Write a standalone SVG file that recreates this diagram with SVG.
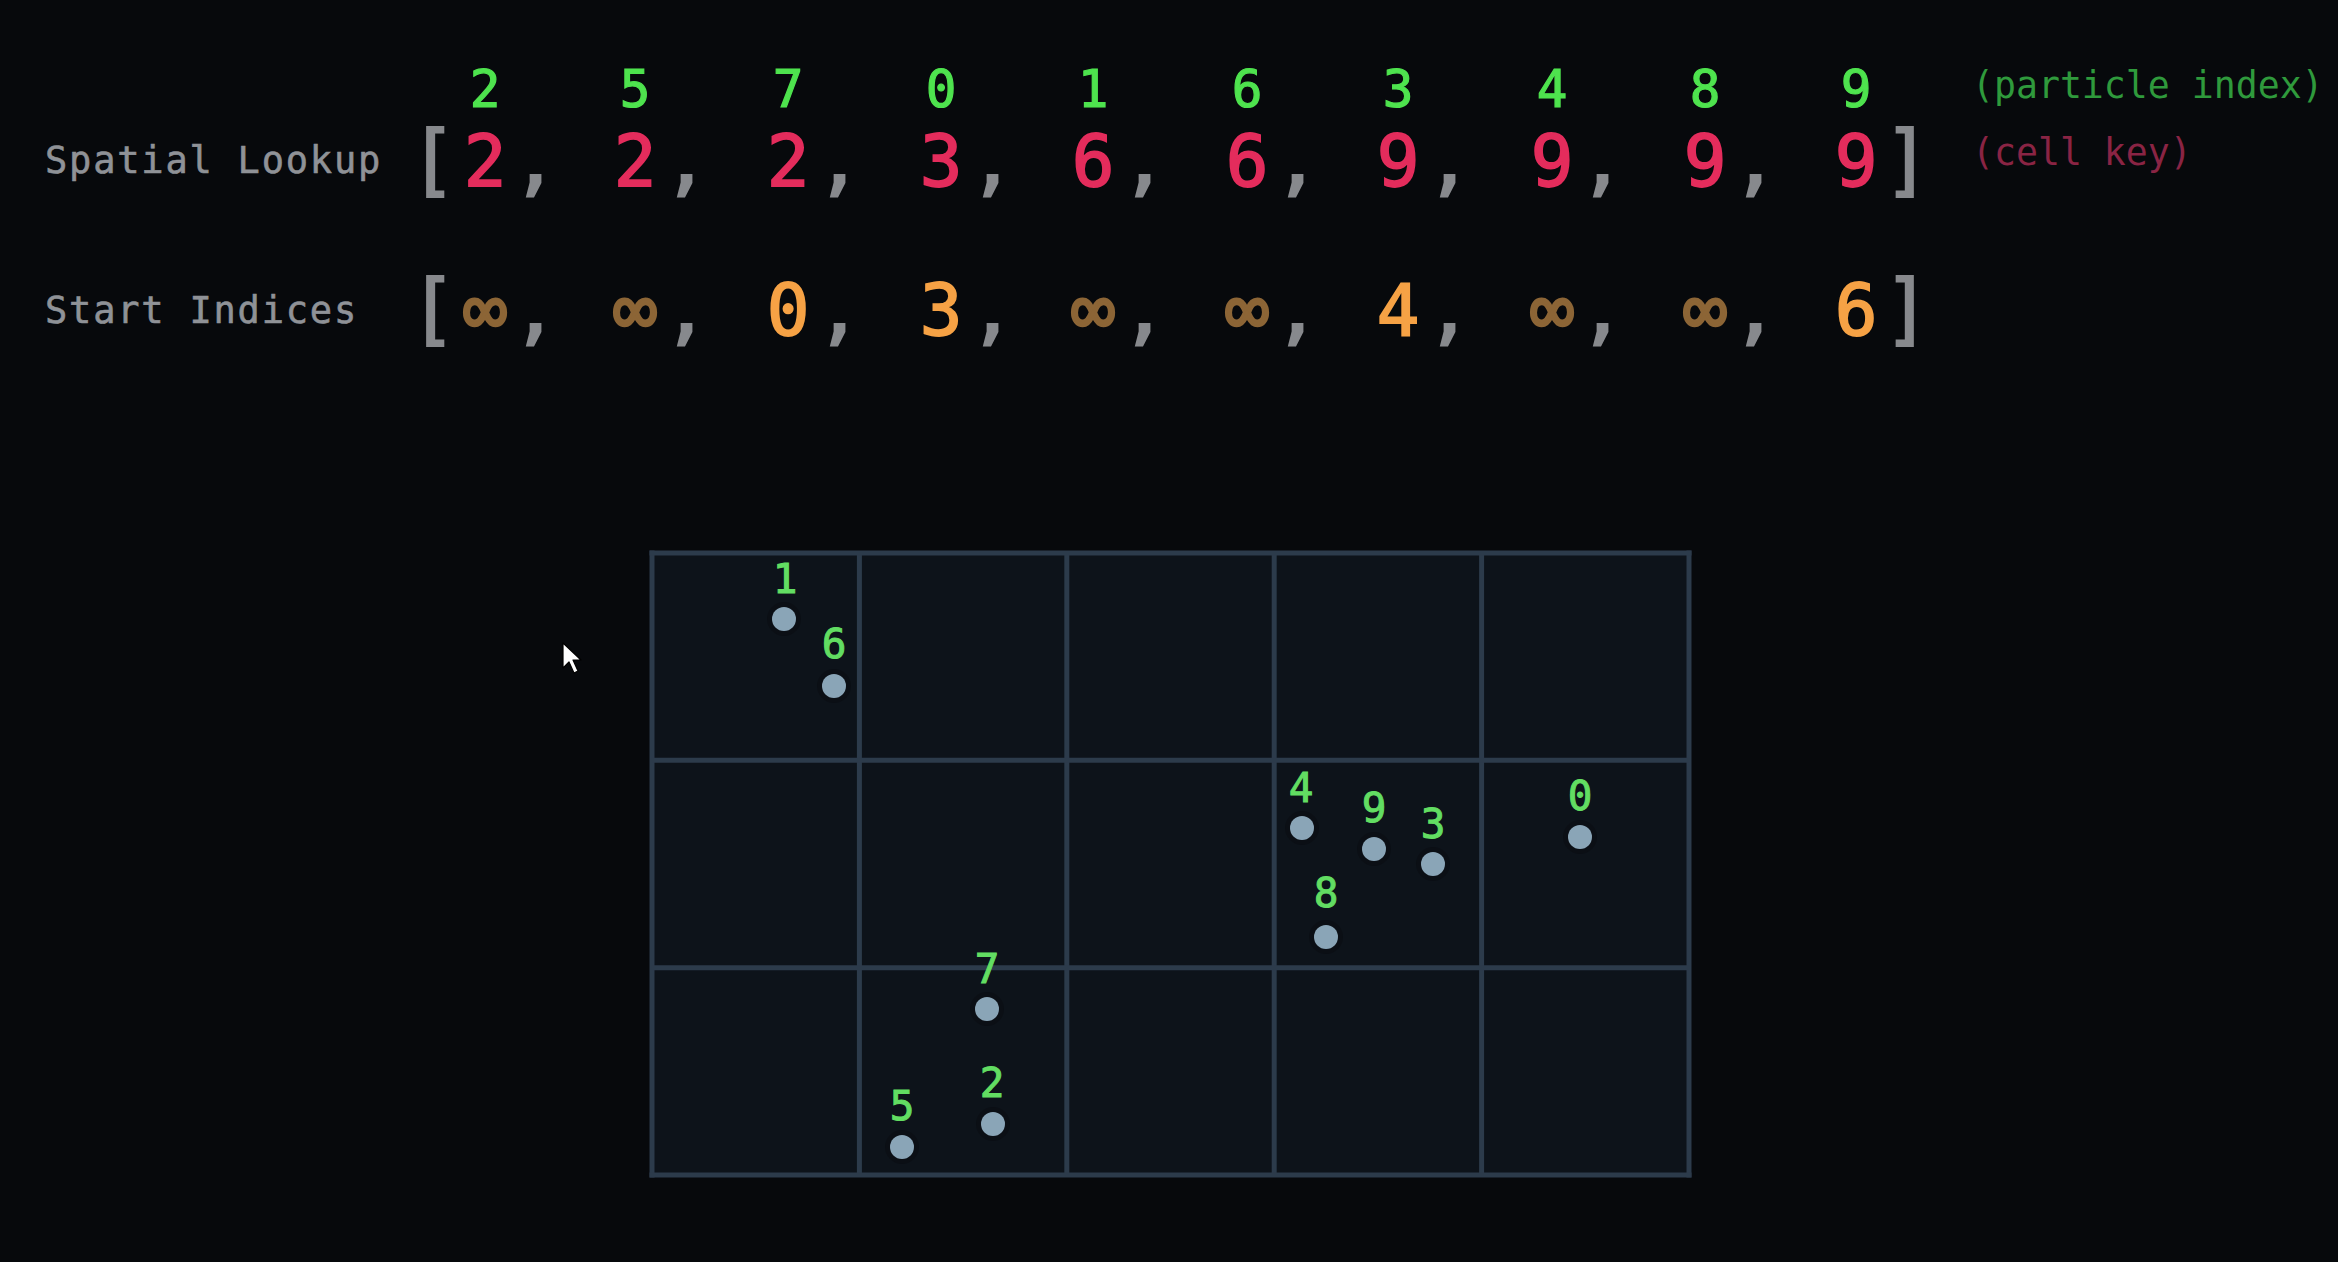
<svg xmlns="http://www.w3.org/2000/svg" width="2338" height="1262" viewBox="0 0 2338 1262">
<style>
  .mono { font-family: "DejaVu Sans Mono", "Liberation Mono", monospace; }
  .lbl { font-size: 37px; fill: #8f9297; letter-spacing: 1.8px; stroke: #8f9297; stroke-width: 0.6; }
  .pi { font-size: 51px; fill: #4ee34e; stroke: #4ee34e; stroke-width: 1.2; text-anchor: middle; }
  .key { font-size: 71px; fill: #e42c5c; stroke: #e42c5c; stroke-width: 1.8; text-anchor: middle; }
  .st { font-size: 71px; fill: #f6a245; stroke: #f6a245; stroke-width: 1.8; text-anchor: middle; }
  .inf { font-size: 74px; fill: #8c6536; stroke: #8c6536; stroke-width: 2.6; text-anchor: middle; }
  .punct { font-size: 71px; fill: #87898d; stroke: #87898d; stroke-width: 3; text-anchor: middle; }
  .brk { font-size: 78px; fill: #87898d; stroke: #87898d; stroke-width: 2; text-anchor: middle; }
  .note { font-size: 36.5px; }
  .gl { font-size: 41px; fill: #62dd62; stroke: #62dd62; stroke-width: 1; text-anchor: middle; }
  .dot { fill: #8aa5b7; }
  .halo { fill: #05080b; opacity: 0.3; }
  .grid line { stroke: #2c3b4b; stroke-width: 5; }
</style>
<rect x="0" y="0" width="2338" height="1262" fill="#07090c"/>

<g id="labels" class="mono">
  <text class="lbl" x="45" y="173">Spatial Lookup</text>
  <text class="lbl" x="45" y="323">Start Indices</text>
  <text class="note" x="1972" y="98" fill="#2f9a3c">(particle index)</text>
  <text class="note" x="1972" y="165" fill="#8a2444">(cell key)</text>
</g>

<g id="particle-index-row" class="mono">
  <text class="pi" x="485" y="107">2</text>
  <text class="pi" x="635" y="107">5</text>
  <text class="pi" x="788" y="107">7</text>
  <text class="pi" x="941" y="107">0</text>
  <text class="pi" x="1093" y="107">1</text>
  <text class="pi" x="1247" y="107">6</text>
  <text class="pi" x="1398" y="107">3</text>
  <text class="pi" x="1552" y="107">4</text>
  <text class="pi" x="1705" y="107">8</text>
  <text class="pi" x="1856" y="107">9</text>
</g>

<g id="spatial-lookup-array" class="mono">
  <text class="brk" x="433" y="187">[</text>
  <text class="key" x="485" y="186">2</text><text class="punct" x="535" y="186">,</text>
  <text class="key" x="635" y="186">2</text><text class="punct" x="686" y="186">,</text>
  <text class="key" x="788" y="186">2</text><text class="punct" x="839" y="186">,</text>
  <text class="key" x="941" y="186">3</text><text class="punct" x="992" y="186">,</text>
  <text class="key" x="1093" y="186">6</text><text class="punct" x="1144" y="186">,</text>
  <text class="key" x="1247" y="186">6</text><text class="punct" x="1297" y="186">,</text>
  <text class="key" x="1398" y="186">9</text><text class="punct" x="1449" y="186">,</text>
  <text class="key" x="1552" y="186">9</text><text class="punct" x="1602" y="186">,</text>
  <text class="key" x="1705" y="186">9</text><text class="punct" x="1755" y="186">,</text>
  <text class="key" x="1856" y="186">9</text>
  <text class="brk" x="1907" y="187">]</text>
</g>

<g id="start-indices-array" class="mono">
  <text class="brk" x="433" y="336">[</text>
  <text class="inf" x="485" y="335">∞</text><text class="punct" x="535" y="335">,</text>
  <text class="inf" x="635" y="335">∞</text><text class="punct" x="686" y="335">,</text>
  <text class="st" x="788" y="335">0</text><text class="punct" x="839" y="335">,</text>
  <text class="st" x="941" y="335">3</text><text class="punct" x="992" y="335">,</text>
  <text class="inf" x="1093" y="335">∞</text><text class="punct" x="1144" y="335">,</text>
  <text class="inf" x="1247" y="335">∞</text><text class="punct" x="1297" y="335">,</text>
  <text class="st" x="1398" y="335">4</text><text class="punct" x="1449" y="335">,</text>
  <text class="inf" x="1552" y="335">∞</text><text class="punct" x="1602" y="335">,</text>
  <text class="inf" x="1705" y="335">∞</text><text class="punct" x="1755" y="335">,</text>
  <text class="st" x="1856" y="335">6</text>
  <text class="brk" x="1907" y="336">]</text>
</g>

<g id="grid" class="grid">
  <rect x="652" y="553" width="1037" height="622" fill="#0d131a"/>
  <line x1="652" y1="550.5" x2="652" y2="1177.5"/>
  <line x1="859.4" y1="553" x2="859.4" y2="1175"/>
  <line x1="1066.8" y1="553" x2="1066.8" y2="1175"/>
  <line x1="1274.2" y1="553" x2="1274.2" y2="1175"/>
  <line x1="1481.6" y1="553" x2="1481.6" y2="1175"/>
  <line x1="1689" y1="550.5" x2="1689" y2="1177.5"/>
  <line x1="649.5" y1="553" x2="1691.5" y2="553"/>
  <line x1="652" y1="760.3" x2="1689" y2="760.3"/>
  <line x1="652" y1="967.7" x2="1689" y2="967.7"/>
  <line x1="649.5" y1="1175" x2="1691.5" y2="1175"/>
</g>

<g id="particles" class="mono">
  <g id="p1"><circle class="halo" cx="784" cy="619" r="17"/><circle class="dot" cx="784" cy="619" r="12"/><text class="gl" x="785" y="593">1</text></g>
  <g id="p6"><circle class="halo" cx="834" cy="686" r="17"/><circle class="dot" cx="834" cy="686" r="12"/><text class="gl" x="834" y="658">6</text></g>
  <g id="p4"><circle class="halo" cx="1302" cy="828" r="17"/><circle class="dot" cx="1302" cy="828" r="12"/><text class="gl" x="1301" y="802">4</text></g>
  <g id="p9"><circle class="halo" cx="1374" cy="849" r="17"/><circle class="dot" cx="1374" cy="849" r="12"/><text class="gl" x="1374" y="822">9</text></g>
  <g id="p3"><circle class="halo" cx="1433" cy="864" r="17"/><circle class="dot" cx="1433" cy="864" r="12"/><text class="gl" x="1433" y="838">3</text></g>
  <g id="p8"><circle class="halo" cx="1326" cy="937" r="17"/><circle class="dot" cx="1326" cy="937" r="12"/><text class="gl" x="1326" y="907">8</text></g>
  <g id="p0"><circle class="halo" cx="1580" cy="837" r="17"/><circle class="dot" cx="1580" cy="837" r="12"/><text class="gl" x="1580" y="810">0</text></g>
  <g id="p7"><circle class="halo" cx="987" cy="1009" r="17"/><circle class="dot" cx="987" cy="1009" r="12"/><text class="gl" x="987" y="983">7</text></g>
  <g id="p2"><circle class="halo" cx="993" cy="1124" r="17"/><circle class="dot" cx="993" cy="1124" r="12"/><text class="gl" x="992" y="1097">2</text></g>
  <g id="p5"><circle class="halo" cx="902" cy="1147" r="17"/><circle class="dot" cx="902" cy="1147" r="12"/><text class="gl" x="902" y="1120">5</text></g>
</g>

<g id="cursor">
  <path d="M563,643 L563,668 L569,662 L574,673 L578,671 L573,660 L581,660 Z" fill="#ffffff" stroke="#000000" stroke-width="1.2" stroke-linejoin="round"/>
</g>

<g id="connectors"></g>
</svg>
